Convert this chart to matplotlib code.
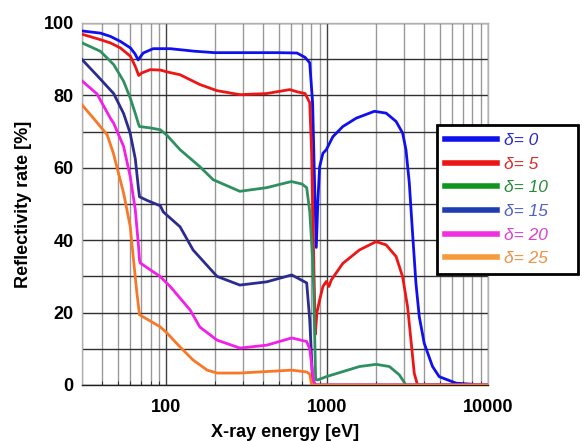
import matplotlib
matplotlib.use("Agg")
import matplotlib.pyplot as plt
from matplotlib.ticker import LogLocator, NullFormatter, FixedLocator

plt.rcParams['font.family'] = ['Liberation Sans', 'DejaVu Sans']

labels = ["δ= 0", "δ= 5", "δ= 10", "δ= 15", "δ= 20", "δ= 25"]
line_colors = ["#1010ee", "#ee1515", "#2e9060", "#2c2c90", "#f020e8", "#f87828"]
legend_line_colors = ["#1010ee", "#ee1515", "#10961e", "#1f3cb0", "#f030e0", "#f89a3a"]
text_colors = ["#2a2acc", "#e02828", "#2a8a3a", "#5060cc", "#e040d0", "#f09040"]

e0 = [30, 39, 45, 52, 60, 64, 67, 72, 83, 106, 150, 200, 300, 500, 650, 730, 780,
      813, 837, 857, 877, 899, 942, 989, 1087, 1253, 1517, 1967, 2327, 2684, 2947,
      3092, 3243, 3398, 3566, 3739, 4016, 4522, 4976, 6340, 8000]
r0 = [97.8, 97.2, 96.3, 94.9, 93.1, 91.5, 89.8, 91.7, 92.9, 92.9, 92.2, 91.8, 91.8,
      91.8, 91.7, 90.5, 89, 78, 55, 38, 51, 60.3, 64, 65, 68.6, 71.4, 73.7, 75.6,
      75.1, 72.8, 69.6, 65, 55.8, 41.9, 28.1, 18.9, 11.5, 5.1, 2.3, 0.5, 0.2]

e5 = [30, 39, 45, 52, 60, 64.3, 67.5, 70.7, 79.6, 92, 101, 122, 162, 207, 287, 420,
      586, 650, 730, 780, 802, 825, 845, 865, 899, 942, 989, 1026, 1062, 1253, 1589,
      2017, 2327, 2684, 2947, 3164, 3321, 3482, 3649, 10000]
r5 = [96.9, 95.4, 94.5, 93.1, 90.8, 88, 85.5, 86.2, 87.1, 87, 86.5, 85.7, 83, 81.3,
      80.2, 80.5, 81.6, 81, 80.5, 78, 64, 36, 14, 20, 23.5, 27.2, 28.6, 27.2, 29,
      33.6, 37.3, 39.6, 38.7, 35.5, 29.9, 21.6, 12.4, 3.2, 0, 0]

e10 = [30, 39, 47.2, 54.4, 59.8, 64.3, 67.4, 68.3, 80, 92, 101, 122, 162, 196, 240,
       287, 420, 600, 700, 747, 780, 813, 825, 849, 877, 989, 1253, 1589, 2017, 2439,
       2812, 3092, 10000]
r10 = [94.5, 92.2, 88.5, 83.9, 79.3, 75, 72, 71.4, 71, 70.5, 69, 65, 60.3, 56.7, 55,
       53.5, 54.5, 56.2, 55.5, 54.5, 48, 35, 27, 1.5, 1.4, 2.3, 3.7, 5.1, 5.7, 5.1,
       2.8, 0, 0]

e15 = [30, 37.2, 47.2, 54.4, 59.8, 64.3, 67.4, 68.3, 76, 83, 92, 96, 122, 147, 207,
       287, 422, 603, 747, 780, 813, 849, 10000]
r15 = [89.9, 85.5, 80.5, 75, 69.5, 62.5, 54, 52, 51, 50.3, 49.5, 47.8, 43.7, 37.3,
       30, 27.6, 28.5, 30.4, 28.2, 18, 1.4, 0, 0]

e20 = [30, 37.2, 45, 47.2, 54.4, 59.8, 64.3, 67.4, 68.3, 69, 91.6, 106, 141, 162,
       207, 287, 422, 603, 747, 780, 825, 849, 10000]
r20 = [84, 80.4, 73.7, 72.3, 65.9, 57.6, 48.4, 38.2, 34.5, 33.7, 30, 27.2, 20.7, 16,
       12.4, 10.2, 11, 13, 12, 10, 1, 0, 0]

e25 = [30, 37.2, 43, 47, 54.4, 59.8, 62.7, 65.8, 68.3, 91.6, 101, 122, 147, 180,
       207, 287, 603, 747, 780, 802, 10000]
r25 = [77.4, 72.5, 69.1, 64, 53, 43.8, 34.6, 25.4, 19.4, 16.1, 14.4, 10.5, 6.9, 4.1,
       3.3, 3.3, 4.1, 3.6, 3, 0, 0]

energies = [e0, e5, e10, e15, e20, e25]
rates = [r0, r5, r10, r15, r20, r25]

x_ticks = [100, 1000, 10000]
x_ticklabels = ["100", "1000", "10000"]
y_ticks = [0, 20, 40, 60, 80, 100]

fig = plt.figure(figsize=(5.82, 4.41), dpi=100)
ax = fig.add_axes([0.1409, 0.1270, 0.6976, 0.8209])

handles = []
for e, r, c, lab in zip(energies, rates, line_colors, labels):
    h, = ax.plot(e, r, color=c, lw=2.0, label=lab, zorder=3, solid_joinstyle='round')
    handles.append(h)

ax.set_xscale('log')
ax.set_xlim(30, 10000)
ax.set_ylim(0, 100)
ax.set_xticks(x_ticks)
ax.set_xticklabels(x_ticklabels)
ax.xaxis.set_minor_locator(LogLocator(base=10, subs=range(2, 10)))
ax.xaxis.set_minor_formatter(NullFormatter())
ax.set_yticks(y_ticks)
ax.yaxis.set_minor_locator(FixedLocator([10, 30, 50, 70, 90]))

ax.grid(True, which='major', axis='y', color='#303030', lw=1.0)
ax.grid(True, which='minor', axis='y', color='#303030', lw=1.0)
ax.grid(True, which='major', axis='x', color='#404040', lw=1.0)
ax.grid(True, which='minor', axis='x', color='#9a9a9a', lw=1.0)

for side in ['top', 'right', 'left']:
    ax.spines[side].set_color('#b0b0b0')
    ax.spines[side].set_linewidth(1.0)
ax.spines['bottom'].set_color('#202020')
ax.spines['bottom'].set_linewidth(1.0)

ax.tick_params(axis='x', which='major', length=0, pad=10, labelsize=13)
ax.tick_params(axis='x', which='minor', length=3, direction='in', color='#202020')
ax.tick_params(axis='y', which='both', length=0, pad=6, labelsize=13)
for t in ax.get_xticklabels() + ax.get_yticklabels():
    t.set_fontweight('bold')

ax.set_xlabel("X-ray energy [eV]", fontsize=13, fontweight='bold', labelpad=6)
ax.set_ylabel("Reflectivity rate [%]", fontsize=13, fontweight='bold', labelpad=8)

leg = ax.legend(handles=handles, loc='upper left', mode='expand',
                bbox_to_anchor=(437 / 582, 1 - 278 / 441, 141 / 582, 153 / 441),
                bbox_transform=fig.transFigure, borderaxespad=0,
                fancybox=False, framealpha=1, edgecolor='black', handlelength=3.0,
                handletextpad=0.4, labelspacing=0.49, borderpad=0.45,
                prop={'size': 12.5, 'style': 'italic'})
leg.get_frame().set_linewidth(2.0)
for line, c in zip(leg.get_lines(), legend_line_colors):
    line.set_linewidth(4)
    line.set_color(c)
for t, c in zip(leg.get_texts(), text_colors):
    t.set_color(c)
leg.set_zorder(10)

fig.savefig("out.png", dpi=100)
